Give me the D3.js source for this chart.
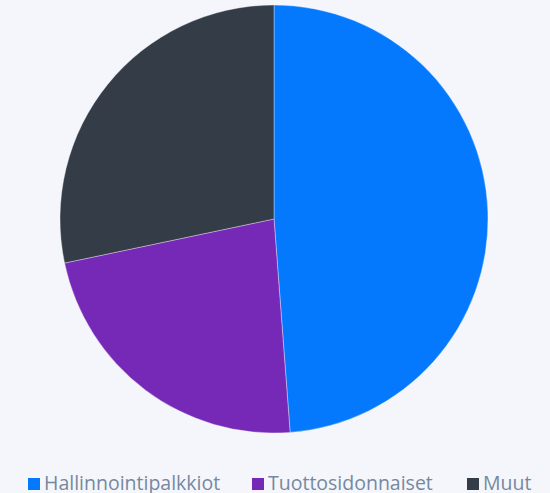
<!DOCTYPE html>
<html>
<head>
<meta charset="utf-8">
<script src="https://cdn.jsdelivr.net/npm/d3@7"></script>
<style>
  html, body { margin: 0; padding: 0; background: #f5f6fb; }
  svg { display: block; }
</style>
</head>
<body>
<svg id="chart" width="550" height="493"></svg>
<script>
// Fee breakdown (%)
const categories = ["Hallinnointipalkkiot", "Tuottosidonnaiset", "Muut"];
const values = [48.8, 22.9, 28.3];
const colors = ["#0579fe", "#7629b6", "#343d47"];

const width = 550, height = 493;
const cx = 274, cy = 219, radius = 214;

const svg = d3.select("#chart");
svg.append("rect").attr("width", width).attr("height", height).attr("fill", "#f5f6fb");

const color = d3.scaleOrdinal().domain(categories).range(colors);

const pie = d3.pie().sort(null).value(d => d.value);
const arc = d3.arc().innerRadius(0).outerRadius(radius);

const data = categories.map((c, i) => ({ name: c, value: values[i] }));

svg.append("g")
  .attr("transform", `translate(${cx},${cy})`)
  .selectAll("path")
  .data(pie(data))
  .join("path")
  .attr("d", arc)
  .attr("fill", d => color(d.data.name))
  .attr("stroke", "rgba(255,255,255,0.35)")
  .attr("stroke-width", 1);

// Legend
const legendX = [28, 252, 467];
const legend = svg.append("g").attr("font-family", "'Open Sans', sans-serif");
categories.forEach((c, i) => {
  const g = legend.append("g").attr("transform", `translate(${legendX[i]},0)`);
  g.append("rect").attr("x", 0).attr("y", 478).attr("width", 12).attr("height", 12)
    .attr("fill", color(c));
  g.append("text").attr("x", 16).attr("y", 490)
    .attr("font-size", 19.5).attr("fill", "#7588a0").text(c);
});
</script>
</body>
</html>
